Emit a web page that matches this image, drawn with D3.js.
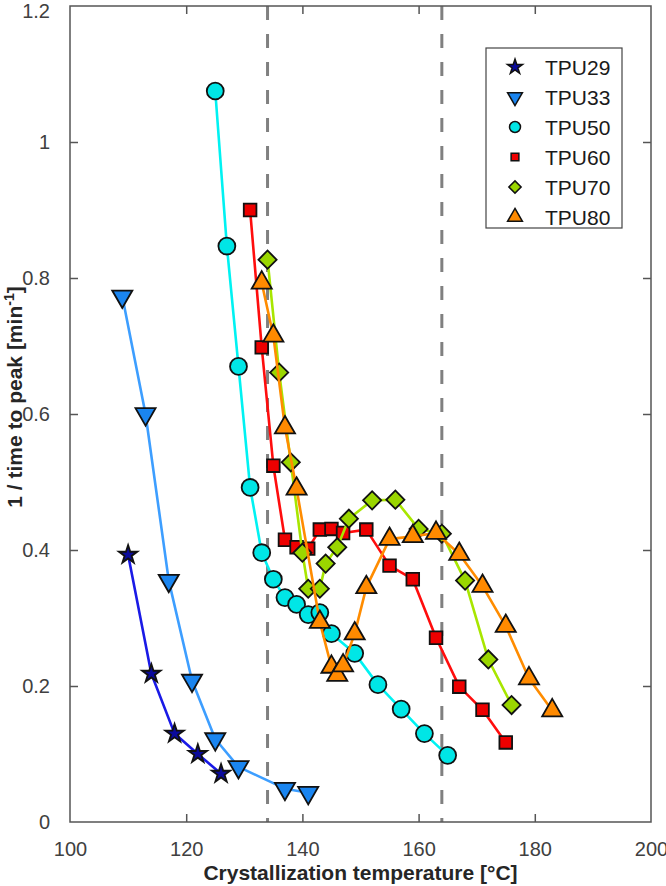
<!DOCTYPE html>
<html>
<head>
	<title>TPU crystallization</title>
	<style>
	body { margin: 0; background: #fff; }
	.ticklabel {
		font-family: 'Liberation Sans', Arial, sans-serif;
		font-size: 20px;
		fill: #404040;
	}
	.axislabel {
		font-family: 'Liberation Sans', Arial, sans-serif;
		font-size: 21px;
		font-weight: bold;
		fill: #262626;
	}
	.legendtext {
		font-family: 'Liberation Sans', Arial, sans-serif;
		font-size: 21px;
		fill: #1a1a1a;
	}
	</style>
	<script src="https://d3js.org/d3.v7.min.js"></script>
</head>
<body>
	<script type="text/javascript">
		// data
		var t29 = [110, 114, 118, 122, 126];
		var v29 = [0.393, 0.218, 0.130, 0.100, 0.071];

		var t33 = [109, 113, 117, 121, 125, 129, 137, 141];
		var v33 = [0.773, 0.600, 0.355, 0.208, 0.122, 0.081, 0.049, 0.043];

		var t50 = [125, 127, 129, 131, 133, 135, 137, 139, 141, 143, 145, 149, 153, 157, 161, 165];
		var v50 = [1.075, 0.847, 0.670, 0.492, 0.396, 0.357, 0.330, 0.320, 0.305, 0.308, 0.277, 0.248, 0.202, 0.166, 0.130, 0.098];

		var t60 = [131, 133, 135, 137, 139, 141, 143, 145, 147, 151, 155, 159, 163, 167, 171, 175];
		var v60 = [0.900, 0.698, 0.524, 0.415, 0.404, 0.402, 0.430, 0.431, 0.425, 0.430, 0.377, 0.357, 0.271, 0.199, 0.165, 0.117];

		var t70 = [134, 136, 138, 140, 141, 143, 144, 146, 148, 152, 156, 160, 164, 168, 172, 176];
		var v70 = [0.827, 0.661, 0.529, 0.396, 0.343, 0.343, 0.380, 0.404, 0.446, 0.473, 0.474, 0.431, 0.424, 0.355, 0.239, 0.172];

		var t80 = [133, 135, 137, 139, 143, 145, 146, 147, 149, 151, 155, 159, 163, 167, 171, 175, 179, 183];
		var v80 = [0.793, 0.715, 0.580, 0.490, 0.294, 0.228, 0.216, 0.230, 0.277, 0.345, 0.416, 0.420, 0.425, 0.394, 0.347, 0.288, 0.211, 0.164];

		var seriesNames = ['TPU29', 'TPU33', 'TPU50', 'TPU60', 'TPU70', 'TPU80'];
		var xTicks = [100, 120, 140, 160, 180, 200];
		var yTicks = [0, 0.2, 0.4, 0.6, 0.8, 1, 1.2];
		var dashedAt = [134, 164];

		var svgWidth = 666;
		var svgHeight = 886;
		var pLeft = 70, pRight = 651, pTop = 6, pBottom = 822;
		var tickLen = 8;

		var svg = d3.select('body').append('svg')
			.attr('width', svgWidth)
			.attr('height', svgHeight);

		var x = d3.scaleLinear().domain([100, 200]).range([pLeft, pRight]);
		var y = d3.scaleLinear().domain([0, 1.2]).range([pBottom, pTop]);

		// marker shapes, MATLAB style
		var sym = {
			star: { type: d3.symbolStar, size: 105, rot: 0 },
			down: { type: d3.symbolTriangle, size: 175, rot: 180 },
			circle: { type: d3.symbolCircle, size: 225, rot: 0 },
			square: { type: d3.symbolSquare, size: 160, rot: 0 },
			diamond: { type: d3.symbolSquare, size: 165, rot: 45 },
			up: { type: d3.symbolTriangle, size: 175, rot: 0 }
		};

		var series = [
			{ name: seriesNames[0], t: t29, v: v29, line: '#1a1ae6', fill: '#0a0a9c', marker: 'star' },
			{ name: seriesNames[1], t: t33, v: v33, line: '#3d9eff', fill: '#1a85f0', marker: 'down' },
			{ name: seriesNames[2], t: t50, v: v50, line: '#00f2f2', fill: '#00e6e6', marker: 'circle' },
			{ name: seriesNames[3], t: t60, v: v60, line: '#ff0d0d', fill: '#ee0000', marker: 'square' },
			{ name: seriesNames[4], t: t70, v: v70, line: '#a8e600', fill: '#9ad600', marker: 'diamond' },
			{ name: seriesNames[5], t: t80, v: v80, line: '#ff8c00', fill: '#ff8a00', marker: 'up' }
		];

		// dashed guide lines
		svg.selectAll('line.guide')
			.data(dashedAt)
			.enter()
			.append('line')
			.attr('class', 'guide')
			.attr('x1', function (d) { return x(d); })
			.attr('x2', function (d) { return x(d); })
			.attr('y1', y(1.2))
			.attr('y2', y(0))
			.style('stroke', '#808080')
			.style('stroke-width', 3)
			.style('stroke-dasharray', '14,14');

		// frame and ticks
		var axisColor = '#555';
		svg.append('rect')
			.attr('x', pLeft).attr('y', pTop)
			.attr('width', pRight - pLeft).attr('height', pBottom - pTop)
			.attr('fill', 'none')
			.style('stroke', axisColor)
			.style('stroke-width', 1.5);

		var xAxisB = d3.axisBottom(x).tickValues(xTicks).tickSizeInner(-tickLen).tickSizeOuter(0).tickPadding(16);
		var gxb = svg.append('g').attr('transform', 'translate(0,' + pBottom + ')').call(xAxisB);
		var xAxisT = d3.axisTop(x).tickValues(xTicks).tickSizeInner(-tickLen).tickSizeOuter(0).tickFormat('');
		var gxt = svg.append('g').attr('transform', 'translate(0,' + pTop + ')').call(xAxisT);
		var yAxisL = d3.axisLeft(y).tickValues(yTicks).tickSizeInner(-tickLen).tickSizeOuter(0).tickPadding(20)
			.tickFormat(function (d) { return d3.format('~g')(d); });
		var gyl = svg.append('g').attr('transform', 'translate(' + pLeft + ',0)').call(yAxisL);
		var yAxisR = d3.axisRight(y).tickValues(yTicks).tickSizeInner(-tickLen).tickSizeOuter(0).tickFormat('');
		var gyr = svg.append('g').attr('transform', 'translate(' + pRight + ',0)').call(yAxisR);

		[gxb, gxt, gyl, gyr].forEach(function (g) {
			g.select('.domain').remove();
			g.attr('font-size', null).attr('font-family', null);
			g.selectAll('.tick line').style('stroke', axisColor).style('stroke-width', 1.5);
			g.selectAll('.tick text').attr('class', 'ticklabel').attr('fill', null);
		});
		gxb.selectAll('.tick text').attr('dy', '0.35em').attr('y', 27);
		// top label sits a little lower so it is not clipped
		gyl.selectAll('.tick text').filter(function (d) { return d === 1.2; }).attr('dy', '0.55em');
		// keep the corner tick marks off the frame corners
		gyl.selectAll('.tick line').filter(function (d) { return d === 0 || d === 1.2; }).remove();
		gyr.selectAll('.tick line').filter(function (d) { return d === 0 || d === 1.2; }).remove();
		gxb.selectAll('.tick line').filter(function (d) { return d === 100 || d === 200; }).remove();
		gxt.selectAll('.tick line').filter(function (d) { return d === 100 || d === 200; }).remove();

		// series: line then markers
		var lineGen = d3.line()
			.x(function (d) { return x(d[0]); })
			.y(function (d) { return y(d[1]); });

		series.forEach(function (s) {
			var pts = s.t.map(function (t, i) { return [t, s.v[i]]; });
			var g = svg.append('g');
			g.append('path')
				.attr('d', lineGen(pts))
				.attr('fill', 'none')
				.style('stroke', s.line)
				.style('stroke-width', 2.6)
				.style('stroke-linejoin', 'round');
			var m = sym[s.marker];
			g.selectAll('path.mk')
				.data(pts)
				.enter()
				.append('path')
				.attr('class', 'mk')
				.attr('d', d3.symbol().type(m.type).size(m.size)())
				.attr('transform', function (d) {
					return 'translate(' + x(d[0]) + ',' + y(d[1]) + ') rotate(' + m.rot + ')';
				})
				.attr('fill', s.fill)
				.style('stroke', '#111')
				.style('stroke-width', 1.8)
				.style('stroke-linejoin', 'miter');
		});

		// axis labels
		svg.append('text')
			.attr('class', 'axislabel')
			.attr('x', (pLeft + pRight) / 2)
			.attr('y', 880)
			.attr('text-anchor', 'middle')
			.text('Crystallization temperature [°C]');

		var yl = svg.append('text')
			.attr('class', 'axislabel')
			.attr('transform', 'translate(22,397) rotate(-90)')
			.attr('text-anchor', 'middle');
		yl.append('tspan').text('1 / time to peak [min');
		yl.append('tspan').attr('dy', -8).style('font-size', '14px').text('-1');
		yl.append('tspan').attr('dy', 8).text(']');

		// legend
		var lg = svg.append('g');
		lg.append('rect')
			.attr('x', 486).attr('y', 48)
			.attr('width', 136).attr('height', 180)
			.attr('fill', '#fff')
			.style('stroke', '#444')
			.style('stroke-width', 1.2);
		var legendSize = { star: 70, down: 95, circle: 95, square: 60, diamond: 75, up: 95 };
		series.forEach(function (s, i) {
			var cy = 67 + i * 30;
			var m = sym[s.marker];
			lg.append('path')
				.attr('d', d3.symbol().type(m.type).size(legendSize[s.marker])())
				.attr('transform', 'translate(515,' + cy + ') rotate(' + m.rot + ')')
				.attr('fill', s.fill)
				.style('stroke', '#111')
				.style('stroke-width', 1.5);
			lg.append('text')
				.attr('class', 'legendtext')
				.attr('x', 545)
				.attr('y', cy)
				.attr('dy', '0.36em')
				.text(s.name);
		});
	</script>
</body>
</html>
